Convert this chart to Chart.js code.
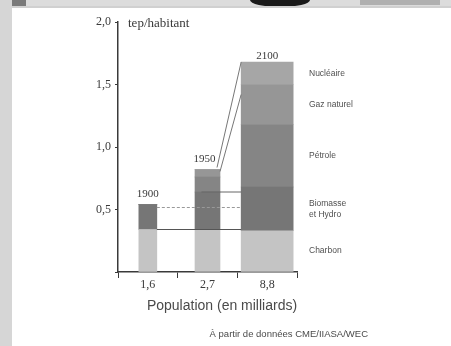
<!DOCTYPE html>
<html>
<head>
<meta charset="utf-8">
<script src="https://cdn.jsdelivr.net/npm/chart.js@4/dist/chart.umd.min.js"></script>
<style>
  html, body { margin: 0; padding: 0; background: #fff; }
  canvas { display: block; }
</style>
</head>
<body>
<canvas id="energyChart" width="451" height="346"></canvas>
<script>
// --- DATA (tep par habitant, par source) ---
const years = ['1900', '1950', '2100'];
const populations = ['1,6', '2,7', '8,8'];
const sources = ['Charbon', 'Biomasse et Hydro', 'Pétrole', 'Gaz naturel', 'Nucléaire'];
const charbon = [0.34, 0.34, 0.33];
const biomasse = [0.20, 0.30, 0.35];
const petrole = [0, 0.12, 0.50];
const gaz = [0, 0.06, 0.32];
const nucleaire = [0, 0, 0.18];
const yTicks = [0, 0.5, 1.0, 1.5, 2.0];

// --- STYLE ---
const SOURCE_VALUES = [charbon, biomasse, petrole, gaz, nucleaire];
const SOURCE_COLORS = ['#c4c4c4', '#767676', '#858585', '#969696', '#a6a6a6'];
const BAR_WIDTHS = [18, 25, 52];
const SERIF = '"Liberation Serif", "DejaVu Serif", serif';
const SANS = '"Liberation Sans", "DejaVu Sans", sans-serif';
const INK = '#3a3a3a';

// one dataset per year and source, so every year gets its own bar width
const datasets = [];
years.forEach((year, yi) => {
    sources.forEach((src, si) => {
        datasets.push({
            label: src + ' ' + year,
            data: years.map((_, j) => j === yi ? SOURCE_VALUES[si][yi] : null),
            backgroundColor: SOURCE_COLORS[si],
            borderWidth: 0,
            barThickness: BAR_WIDTHS[yi],
            stack: 'all'
        });
    });
});

function segment(chart, yi, si) {
    return chart.getDatasetMeta(yi * sources.length + si).data[yi];
}

function topSegment(chart, yi) {
    let top = segment(chart, yi, 0);
    sources.forEach((_, si) => {
        if (SOURCE_VALUES[si][yi] > 0) top = segment(chart, yi, si);
    });
    return top;
}

function hLine(ctx, x1, x2, y, color, dash) {
    ctx.save();
    ctx.strokeStyle = color;
    ctx.lineWidth = 1;
    ctx.setLineDash(dash || []);
    ctx.beginPath();
    ctx.moveTo(x1, y);
    ctx.lineTo(x2, y);
    ctx.stroke();
    ctx.restore();
}

const decor = {
    id: 'decor',
    beforeDraw(chart) {
        const ctx = chart.ctx;
        ctx.save();
        ctx.fillStyle = '#fff';
        ctx.fillRect(0, 0, chart.width, chart.height);
        // page edge and top strip of the scan
        ctx.fillStyle = '#d6d6d6';
        ctx.fillRect(0, 0, 12, chart.height);
        ctx.fillStyle = '#dcdcdc';
        ctx.fillRect(12, 0, chart.width - 12, 6);
        ctx.fillStyle = '#7a7a7a';
        ctx.fillRect(12, 0, 14, 6);
        ctx.fillStyle = '#b0b0b0';
        ctx.fillRect(360, 0, 80, 5);
        ctx.fillStyle = '#1a1a1a';
        ctx.beginPath();
        ctx.ellipse(280, 0, 30, 7, 0, 0, Math.PI * 2);
        ctx.fill();
        ctx.fillStyle = '#d0d0d0';
        ctx.fillRect(12, 6, chart.width - 12, 2);
        ctx.restore();
    },
    afterDatasetsDraw(chart) {
        const ctx = chart.ctx;
        const last = years.length - 1;
        const target = segment(chart, last, 0);
        const targetLeft = target.x - target.width / 2;

        // levels of 1900 and 1950 carried over to 2100
        const b1900c = segment(chart, 0, 0);
        const b1900t = topSegment(chart, 0);
        const r1900 = b1900c.x + b1900c.width / 2;
        hLine(ctx, r1900, targetLeft, b1900c.y, '#555');
        hLine(ctx, r1900, targetLeft, b1900t.y + 3, '#999', [3, 2]);
        const b1950b = segment(chart, 1, 1);
        const r1950 = b1950b.x + b1950b.width / 2;
        hLine(ctx, b1950b.x - 6, targetLeft, b1950b.y, '#666');

        // growth lines from 1950 up to 2100
        const t1950 = topSegment(chart, 1);
        const t2100 = topSegment(chart, last);
        const g2100 = segment(chart, last, 3);
        ctx.save();
        ctx.strokeStyle = '#777';
        ctx.lineWidth = 1;
        ctx.beginPath();
        ctx.moveTo(r1950 - 3, t1950.y - 2);
        ctx.lineTo(targetLeft, t2100.y);
        ctx.moveTo(r1950, t1950.y + 2);
        ctx.lineTo(targetLeft, g2100.y + 10);
        ctx.stroke();
        ctx.restore();

        // year above each bar
        ctx.save();
        ctx.fillStyle = INK;
        ctx.font = '11px ' + SERIF;
        ctx.textAlign = 'center';
        ctx.textBaseline = 'alphabetic';
        years.forEach((year, yi) => {
            const t = topSegment(chart, yi);
            ctx.fillText(year, t.x - (yi === 1 ? 3 : 0), t.y - (yi === last ? 3 : 8));
        });
        ctx.restore();
    },
    afterDraw(chart) {
        const ctx = chart.ctx;
        const area = chart.chartArea;
        const last = years.length - 1;
        ctx.save();
        ctx.fillStyle = INK;
        ctx.font = '13px ' + SERIF;
        ctx.textBaseline = 'middle';
        ctx.fillText('tep/habitant', area.left + 10, area.top + 2);

        // source names next to the 2100 bar
        ctx.fillStyle = '#505050';
        ctx.font = '8.5px ' + SANS;
        sources.forEach((src, si) => {
            const el = segment(chart, last, si);
            const mid = (el.y + el.base) / 2;
            const x = area.right + 12;
            if (src === 'Biomasse et Hydro') {
                ctx.fillText('Biomasse', x, mid - 5);
                ctx.fillText('et Hydro', x, mid + 6);
            } else {
                ctx.fillText(src, x, mid);
            }
        });

        ctx.fillStyle = '#4a4a4a';
        ctx.font = '14px ' + SANS;
        ctx.textAlign = 'center';
        ctx.fillText('Population (en milliards)', 222, 306);
        ctx.font = '9.5px ' + SANS;
        ctx.textAlign = 'right';
        ctx.fillText('À partir de données CME/IIASA/WEC', 368, 334);
        ctx.restore();
    }
};

new Chart(document.getElementById('energyChart'), {
    type: 'bar',
    data: { labels: populations, datasets: datasets },
    options: {
        responsive: false,
        animation: false,
        layout: { padding: { left: 0, right: 154, top: 22, bottom: 0 } },
        plugins: { legend: { display: false }, tooltip: { enabled: false } },
        scales: {
            x: {
                stacked: true,
                offset: true,
                grid: { offset: true, drawOnChartArea: false, tickLength: 6, color: INK },
                border: { color: INK, width: 1.5 },
                ticks: { color: INK, font: { family: SERIF, size: 12 }, padding: 0 },
                afterFit(scale) { scale.height = 74; }
            },
            y: {
                stacked: true,
                min: 0,
                max: 2,
                afterBuildTicks(scale) { scale.ticks = yTicks.map(v => ({ value: v })); },
                grid: { drawOnChartArea: false, tickLength: 3, color: INK },
                border: { color: INK, width: 1.5 },
                ticks: {
                    color: INK,
                    font: { family: SERIF, size: 12 },
                    padding: 4,
                    callback: v => v === 0 ? '' : v.toFixed(1).replace('.', ',')
                },
                afterFit(scale) { scale.width = 118; }
            }
        }
    },
    plugins: [decor]
});
</script>
</body>
</html>
